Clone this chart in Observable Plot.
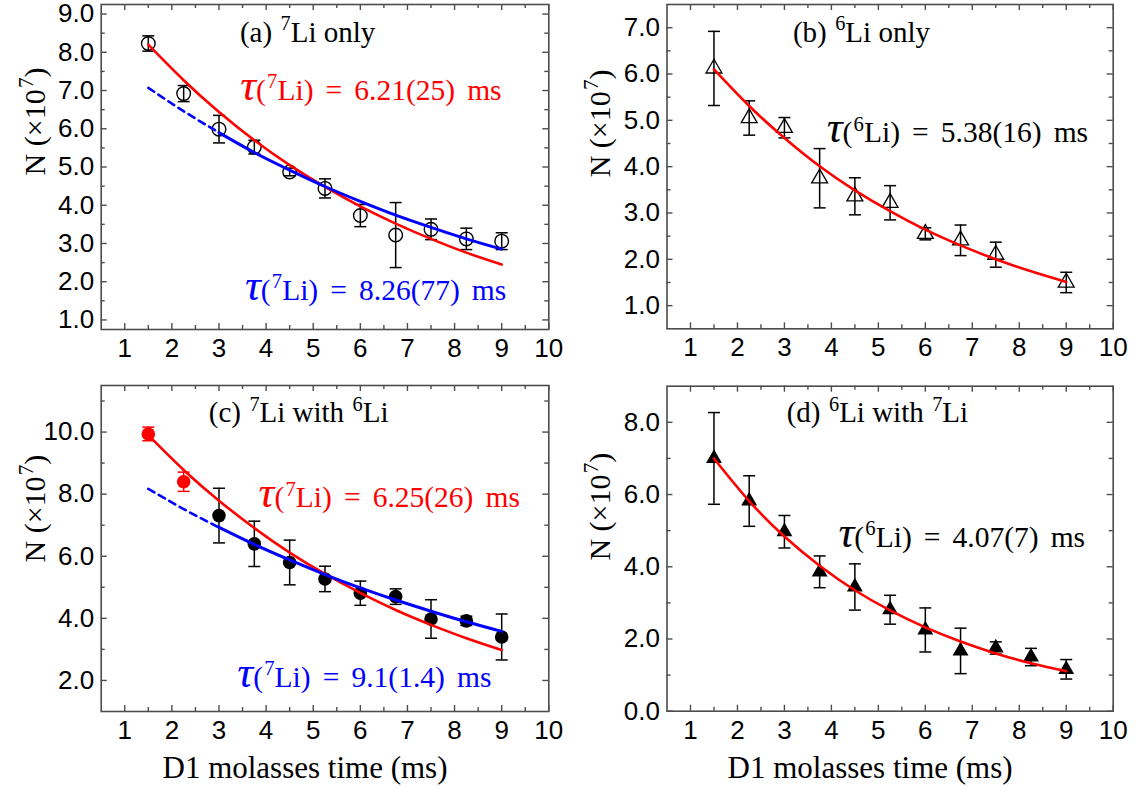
<!DOCTYPE html>
<html><head><meta charset="utf-8">
<script src="https://cdn.jsdelivr.net/npm/d3@7"></script>
<script src="https://cdn.jsdelivr.net/npm/@observablehq/plot@0.6"></script>
<style>
html,body{margin:0;padding:0;background:#fff;}
body{width:1142px;height:789px;position:relative;overflow:hidden;}
.panel{position:absolute;}
.panel svg{overflow:visible;}
</style></head><body>
<div id="pa" class="panel" style="left:0;top:0"></div>
<div id="pb" class="panel" style="left:571px;top:0"></div>
<div id="pc" class="panel" style="left:0;top:380px"></div>
<div id="pd" class="panel" style="left:571px;top:380px"></div>
<script>
// ---------- data ----------
const times = [1.5, 2.25, 3, 3.75, 4.5, 5.25, 6, 6.75, 7.5, 8.25, 9];
const xMajor = [1,2,3,4,5,6,7,8,9,10];
const xMinor = [1.5,2.5,3.5,4.5,5.5,6.5,7.5,8.5,9.5];

// (a) 7Li only
const aN   = [8.23, 6.92, 5.99, 5.52, 4.87, 4.44, 3.73, 3.22, 3.37, 3.12, 3.06];
const aErr = [0.20, 0.21, 0.36, 0.18, 0.10, 0.25, 0.29, 0.85, 0.27, 0.28, 0.22];
const aFitRed  = [8.20, 7.27, 6.44, 5.70, 5.05, 4.48, 3.97, 3.52, 3.12, 2.76, 2.45];
const aFitBlue = [7.07, 6.46, 5.90, 5.38, 4.92, 4.49, 4.10, 3.74, 3.42, 3.12, 2.85];

// (b) 6Li only
const bTimes = [1.5, 2.25, 3, 3.75, 4.5, 5.25, 6, 6.75, 7.5, 9];
const bN   = [6.12, 5.05, 4.84, 3.75, 3.36, 3.22, 2.55, 2.41, 2.10, 1.50];
const bErr = [0.80, 0.37, 0.22, 0.64, 0.40, 0.37, 0.13, 0.33, 0.27, 0.22];
const bFit = [6.10, 5.31, 4.62, 4.01, 3.49, 3.04, 2.64, 2.30, 2.00, 1.74, 1.51];

// (c) 7Li with 6Li
const cN   = [9.94, 8.40, 7.31, 6.40, 5.80, 5.27, 4.81, 4.70, 3.98, 3.92, 3.40];
const cErr = [0.22, 0.31, 0.88, 0.73, 0.72, 0.41, 0.39, 0.25, 0.62, 0.15, 0.74];
const cGroup = ["excluded","excluded","fitted","fitted","fitted","fitted","fitted","fitted","fitted","fitted","fitted"];
const cFitRed  = [9.90, 8.78, 7.79, 6.91, 6.12, 5.43, 4.82, 4.27, 3.79, 3.36, 2.98];
const cFitBlue = [8.17, 7.52, 6.93, 6.38, 5.88, 5.41, 4.98, 4.59, 4.23, 3.89, 3.58];

// (d) 6Li with 7Li
const dN   = [7.00, 5.82, 4.97, 3.86, 3.44, 2.81, 2.25, 1.67, 1.75, 1.50, 1.16];
const dErr = [1.27, 0.70, 0.45, 0.44, 0.64, 0.40, 0.61, 0.63, 0.17, 0.24, 0.27];
const dFit = [7.00, 5.82, 4.84, 4.03, 3.35, 2.79, 2.32, 1.93, 1.60, 1.33, 1.11];

// labels
const yLabel = "N (×10^{7})";
const xLabel = "D1 molasses time (ms)";
const aTitle = "(a) ^{7}Li only";
const aRedLabel = "τ(^{7}Li) = 6.21(25) ms";
const aBlueLabel = "τ(^{7}Li) = 8.26(77) ms";
const bTitle = "(b) ^{6}Li only";
const bLabel = "τ(^{6}Li) = 5.38(16) ms";
const cTitle = "(c) ^{7}Li with ^{6}Li";
const cRedLabel = "τ(^{7}Li) = 6.25(26) ms";
const cBlueLabel = "τ(^{7}Li) = 9.1(1.4) ms";
const dTitle = "(d) ^{6}Li with ^{7}Li";
const dLabel = "τ(^{6}Li) = 4.07(7) ms";

// ---------- style ----------
const RED = "#ff0000", BLUE = "#0000ff", AXIS = "#4d4d4d";
const SERIF = "Liberation Serif";
const SANS = "Liberation Sans";
const fmt1 = d3.format(".1f");
const capSymbol = {draw(ctx, size) { const w = Math.sqrt(size / Math.PI); ctx.moveTo(-w, 0); ctx.lineTo(w, 0); }};

const rows = (ts, n, e) => ts.map((t, i) => ({t, n: n[i], e: e[i], i}));
const fitRows = (ts, v) => ts.map((t, i) => ({t, v: v[i], i}));

function errorBars(data, color) {
  const c = color || "black";
  return [
    Plot.ruleX(data, {x: "t", y1: d => d.n - d.e, y2: d => d.n + d.e, stroke: c, strokeWidth: 1.5}),
    Plot.dot(data, {x: "t", y: d => d.n + d.e, symbol: capSymbol, r: 6, stroke: c, strokeWidth: 1.5, fill: "none"}),
    Plot.dot(data, {x: "t", y: d => d.n - d.e, symbol: capSymbol, r: 6, stroke: c, strokeWidth: 1.5, fill: "none"})
  ];
}

function richify(root) {
  const ns = "http://www.w3.org/2000/svg";
  root.querySelectorAll("text").forEach(t => {
    const s = t.textContent;
    if (!s.includes("^{") && !s.includes("τ")) return;
    while (t.firstChild) t.removeChild(t.firstChild);
    const add = (str, attrs) => {
      const ts = document.createElementNS(ns, "tspan");
      for (const k in attrs) ts.setAttribute(k, attrs[k]);
      ts.textContent = str;
      t.appendChild(ts);
    };
    if (s.includes("τ")) t.setAttribute("word-spacing", "0.16em");
    const re = /(\^\{[^}]*\})|(τ)/g;
    let last = 0, m, down = false;
    while ((m = re.exec(s))) {
      if (m.index > last) { add(s.slice(last, m.index), down ? {dy: "0.4em"} : {}); down = false; }
      if (m[1]) { add(m[1].slice(2, -1), {"font-size": "70%", dy: "-0.57em", dx: "0.06em"}); down = true; }
      else { add("τ", {"font-style": "italic", "font-size": "150%"}); down = false; }
      last = re.lastIndex;
    }
    if (last < s.length) add(s.slice(last), down ? {dy: "0.4em"} : {});
  });
}

function makePanel(cfg) {
  const {width, height, mt, mr, mb, ml, yDomain, yMajor, yMinor, marks, yLabelAt, showX} = cfg;
  const innerW = width - ml - mr, innerH = height - mt - mb;
  const T = 6, t = 4;
  const ts = {stroke: AXIS, strokeWidth: 1.4};
  const all = [
    Plot.tickX(xMajor, {x: d => d, insetTop: innerH - T, ...ts}),
    Plot.tickX(xMinor, {x: d => d, insetTop: innerH - t, ...ts}),
    Plot.tickX(xMajor, {x: d => d, insetBottom: innerH - T, ...ts}),
    Plot.tickX(xMinor, {x: d => d, insetBottom: innerH - t, ...ts}),
    Plot.tickY(yMajor, {y: d => d, insetRight: innerW - T, ...ts}),
    Plot.tickY(yMinor, {y: d => d, insetRight: innerW - t, ...ts}),
    Plot.tickY(yMajor, {y: d => d, insetLeft: innerW - T, ...ts}),
    Plot.tickY(yMinor, {y: d => d, insetLeft: innerW - t, ...ts}),
    Plot.axisX(xMajor, {tickSize: 0, tickPadding: 9, fontSize: 26, fontFamily: SANS, fill: "#000", label: null}),
    Plot.axisY(yMajor, {tickSize: 0, tickPadding: 7, tickFormat: fmt1, fontSize: 26, fontFamily: SANS, fill: "#000", label: null}),
    ...marks,
    Plot.frame({stroke: AXIS, strokeWidth: 1.6}),
    Plot.text([yLabel], {text: d => d, x: yLabelAt[0], y: yLabelAt[1], textAnchor: "start", rotate: -90, fontSize: 30, fontFamily: SERIF, fill: "#000", clip: false})
  ];
  if (showX) all.push(Plot.text([xLabel], {text: d => d, frameAnchor: "bottom", lineAnchor: "middle", dx: -20, dy: 57, fontSize: 31, fontFamily: SERIF, fill: "#000"}));
  const p = Plot.plot({
    width, height, marginTop: mt, marginRight: mr, marginBottom: mb, marginLeft: ml,
    x: {domain: [0.5, 10]}, y: {domain: yDomain},
    style: {background: "transparent", overflow: "visible"},
    marks: all
  });
  richify(p);
  return p;
}

const ANN = 29.5, TTL = 29;

// (a)
const aData = rows(times, aN, aErr);
document.getElementById("pa").appendChild(makePanel({
  width: 571, height: 380, mt: 4, mr: 22.7, mb: 51, ml: 100.7,
  yDomain: [0.75, 9.25], yMajor: [1,2,3,4,5,6,7,8,9], yMinor: [1.5,2.5,3.5,4.5,5.5,6.5,7.5,8.5],
  yLabelAt: [-0.89, 4.78], showX: false,
  marks: [
    ...errorBars(aData),
    Plot.dot(aData, {x: "t", y: "n", r: 6.8, stroke: "black", strokeWidth: 1.4, fill: "none"}),
    Plot.line(fitRows(times, aFitRed), {x: "t", y: "v", stroke: RED, strokeWidth: 2.6, curve: "natural"}),
    Plot.line(fitRows(times, aFitBlue).filter(d => d.i <= 2), {x: "t", y: "v", stroke: BLUE, strokeWidth: 2.6, strokeDasharray: "7,5", curve: "natural"}),
    Plot.line(fitRows(times, aFitBlue).filter(d => d.i >= 2), {x: "t", y: "v", stroke: BLUE, strokeWidth: 3, curve: "natural"}),
    Plot.text([aTitle], {text: d => d, x: 4.88, y: 8.52, fontSize: TTL, fontFamily: SERIF, fill: "#000"}),
    Plot.text([aRedLabel], {text: d => d, x: 3.45, y: 7.0, textAnchor: "start", fontSize: ANN, fontFamily: SERIF, fill: RED}),
    Plot.text([aBlueLabel], {text: d => d, x: 3.55, y: 1.78, textAnchor: "start", fontSize: ANN, fontFamily: SERIF, fill: BLUE})
  ]
}));

// (b)
const bData = rows(bTimes, bN, bErr);
document.getElementById("pb").appendChild(makePanel({
  width: 571, height: 380, mt: 4, mr: 29.3, mb: 51.7, ml: 95.5,
  yDomain: [0.5, 7.5], yMajor: [1,2,3,4,5,6,7], yMinor: [1.5,2.5,3.5,4.5,5.5,6.5],
  yLabelAt: [-0.92, 3.77], showX: false,
  marks: [
    ...errorBars(bData),
    Plot.dot(bData, {x: "t", y: "n", r: 5.9, symbol: "triangle", stroke: "black", strokeWidth: 1.3, fill: "none"}),
    Plot.line(fitRows(times, bFit), {x: "t", y: "v", stroke: RED, strokeWidth: 2.6, curve: "natural"}),
    Plot.text([bTitle], {text: d => d, x: 4.64, y: 6.89, fontSize: TTL, fontFamily: SERIF, fill: "#000"}),
    Plot.text([bLabel], {text: d => d, x: 3.9, y: 4.73, textAnchor: "start", fontSize: ANN, fontFamily: SERIF, fill: "#000"})
  ]
}));

// (c)
const cData = rows(times, cN, cErr);
const cExcl = cData.filter(d => cGroup[d.i] === "excluded");
const cFit = cData.filter(d => cGroup[d.i] === "fitted");
document.getElementById("pc").appendChild(makePanel({
  width: 571, height: 409, mt: 5, mr: 22.7, mb: 78, ml: 100.7,
  yDomain: [1, 11.5], yMajor: [2,4,6,8,10], yMinor: [3,5,7,9,11],
  yLabelAt: [-0.89, 5.80], showX: true,
  marks: [
    ...errorBars(cFit),
    ...errorBars(cExcl, RED),
    Plot.dot(cFit, {x: "t", y: "n", r: 6.8, fill: "black"}),
    Plot.dot(cExcl, {x: "t", y: "n", r: 6.8, fill: RED}),
    Plot.line(fitRows(times, cFitRed), {x: "t", y: "v", stroke: RED, strokeWidth: 2.6, curve: "natural"}),
    Plot.line(fitRows(times, cFitBlue).filter(d => d.i <= 2), {x: "t", y: "v", stroke: BLUE, strokeWidth: 2.6, strokeDasharray: "7,5", curve: "natural"}),
    Plot.line(fitRows(times, cFitBlue).filter(d => d.i >= 2), {x: "t", y: "v", stroke: BLUE, strokeWidth: 3, curve: "natural"}),
    Plot.text([cTitle], {text: d => d, x: 4.69, y: 10.62, fontSize: TTL, fontFamily: SERIF, fill: "#000"}),
    Plot.text([cRedLabel], {text: d => d, x: 3.84, y: 7.88, textAnchor: "start", fontSize: ANN, fontFamily: SERIF, fill: RED}),
    Plot.text([cBlueLabel], {text: d => d, x: 3.39, y: 2.1, textAnchor: "start", fontSize: ANN, fontFamily: SERIF, fill: BLUE})
  ]
}));

// (d)
const dData = rows(times, dN, dErr);
document.getElementById("pd").appendChild(makePanel({
  width: 571, height: 409, mt: 5.7, mr: 29.3, mb: 78.3, ml: 95.5,
  yDomain: [0, 9], yMajor: [0,2,4,6,8], yMinor: [1,3,5,7],
  yLabelAt: [-0.92, 4.17], showX: true,
  marks: [
    ...errorBars(dData),
    Plot.dot(dData, {x: "t", y: "n", r: 5.9, symbol: "triangle", fill: "black"}),
    Plot.line(fitRows(times, dFit), {x: "t", y: "v", stroke: RED, strokeWidth: 2.6, curve: "natural"}),
    Plot.text([dTitle], {text: d => d, x: 4.98, y: 8.26, fontSize: TTL, fontFamily: SERIF, fill: "#000"}),
    Plot.text([dLabel], {text: d => d, x: 4.15, y: 4.82, textAnchor: "start", fontSize: ANN, fontFamily: SERIF, fill: "#000"})
  ]
}));
</script>
</body></html>
